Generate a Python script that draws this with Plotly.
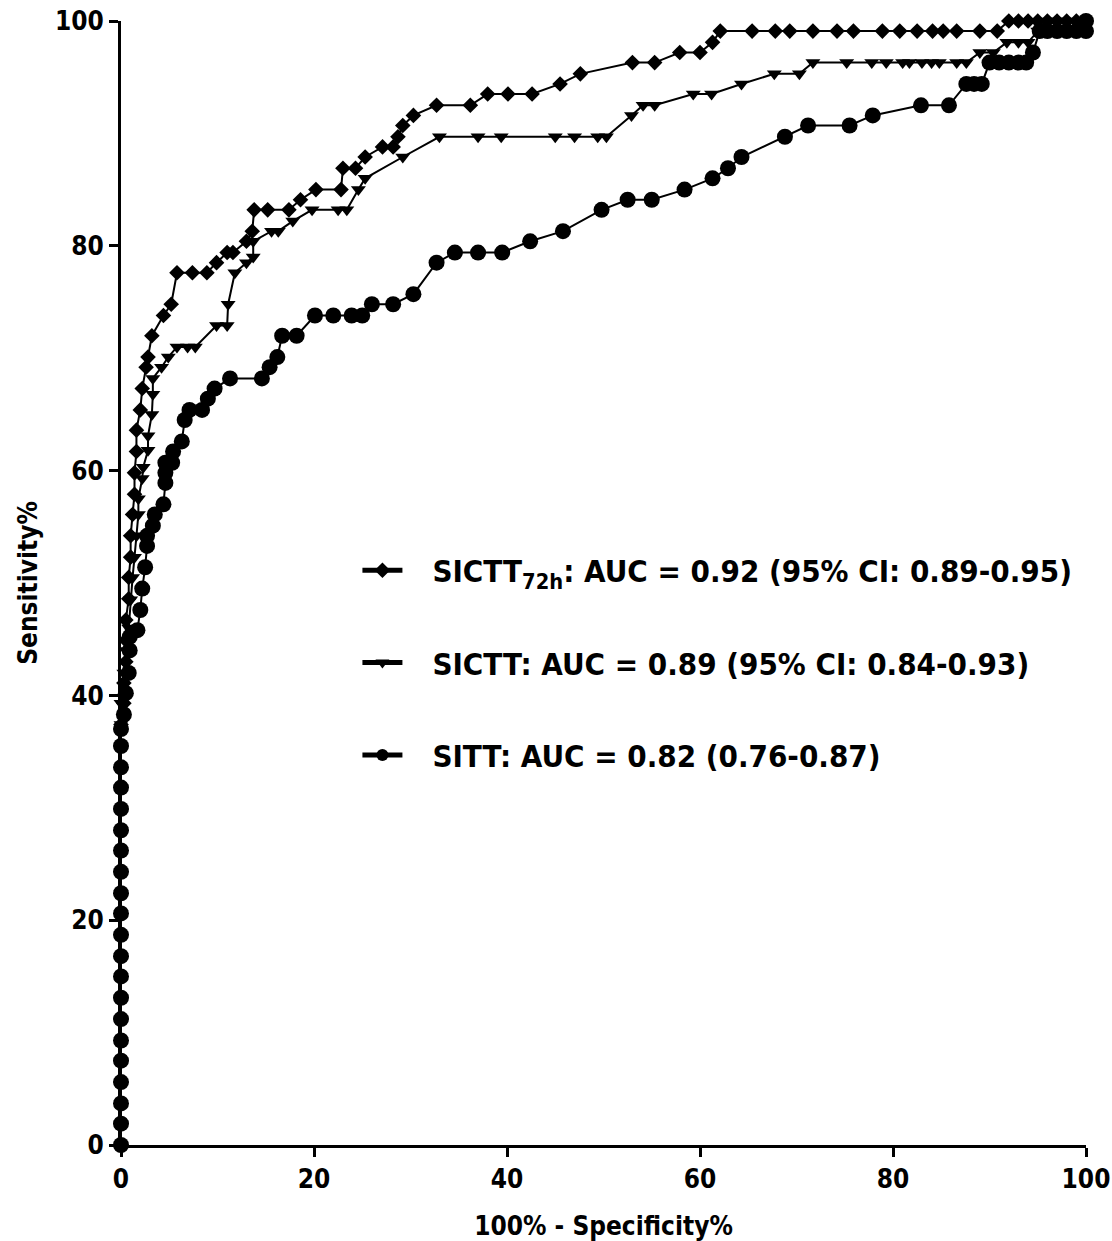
import plotly.graph_objects as go

# SICTT72h (diamonds)
sictt72_x = [0, 0, 0, 0, 0, 0, 0, 0, 0, 0, 0, 0, 0, 0, 0, 0, 0, 0, 0, 0, 0,
             0.3, 0.3, 0.5, 0.5, 0.5, 0.8, 0.8, 1.0, 1.0, 1.2, 1.4, 1.4, 1.6, 1.6, 2.0, 2.2, 2.6, 2.8, 3.2, 4.4, 5.2,
             5.8, 7.4, 8.9, 9.9, 11.0, 11.6, 13.0, 13.6, 13.8, 15.2, 17.4, 18.6, 20.2, 22.8, 23.0, 24.3, 25.3, 27.1,
             28.2, 28.7, 29.2, 30.3, 32.7, 36.2, 38.0, 40.1, 42.6, 45.5, 47.6, 53.0, 55.3, 57.9, 60.0, 61.3, 62.1,
             65.4, 67.8, 69.3, 71.7, 74.2, 75.9, 78.9, 80.7, 82.5, 84.1, 85.2, 86.6, 89.0, 90.8,
             92.0, 93.0, 94.0, 95.0, 96.0, 97.0, 98.0, 99.0, 100.0]
sictt72_y = [0, 1.9, 3.7, 5.6, 7.5, 9.3, 11.2, 13.1, 15.0, 16.8, 18.7, 20.6, 22.4, 24.3, 26.2, 28.0, 29.9, 31.8, 33.6, 35.5, 37.4,
             39.3, 41.1, 43.0, 44.9, 46.7, 48.6, 50.5, 52.3, 54.2, 56.1, 57.9, 59.8, 61.7, 63.6, 65.4, 67.3, 69.2, 70.1, 72.0, 73.8, 74.8,
             77.6, 77.6, 77.6, 78.5, 79.4, 79.4, 80.4, 81.3, 83.2, 83.2, 83.2, 84.1, 85.0, 85.0, 86.9, 86.9, 87.9, 88.8,
             88.8, 89.7, 90.7, 91.6, 92.5, 92.5, 93.5, 93.5, 93.5, 94.4, 95.3, 96.3, 96.3, 97.2, 97.2, 98.1, 99.1,
             99.1, 99.1, 99.1, 99.1, 99.1, 99.1, 99.1, 99.1, 99.1, 99.1, 99.1, 99.1, 99.1, 99.1,
             100, 100, 100, 100, 100, 100, 100, 100, 100]

# SICTT (down triangles)
sictt_x = [0, 0, 0, 0, 0, 0, 0, 0, 0, 0, 0, 0, 0, 0, 0, 0, 0, 0, 0, 0, 0, 0,
           0.3, 0.5, 0.8, 1.0, 1.2, 1.4, 1.6, 1.8, 1.8, 2.2, 2.3, 2.8, 2.8, 3.2, 3.3, 3.3, 4.2, 4.9, 5.8, 6.9, 7.7,
           9.9, 11.0, 11.1, 11.8, 13.0, 13.7, 13.7, 15.6, 16.3, 17.8, 19.8, 22.5, 23.4, 24.6, 25.3, 29.2, 33.0,
           37.0, 39.4, 45.0, 47.0, 49.4, 50.3, 52.9, 54.1, 55.3, 59.3, 61.2, 64.3, 67.7, 70.3, 71.7, 75.2, 77.8,
           79.3, 81.0, 81.7, 83.0, 84.0, 84.8, 86.6, 87.6, 89.0, 90.4, 91.8, 93.0, 94.0, 95.0, 96.0, 97.0, 98.0, 100.0]
sictt_y = [0, 1.9, 3.7, 5.6, 7.5, 9.3, 11.2, 13.1, 15.0, 16.8, 18.7, 20.6, 22.4, 24.3, 26.2, 28.0, 29.9, 31.8, 33.6, 35.5, 37.4, 39.3,
           42.0, 44.0, 46.0, 48.5, 50.5, 52.3, 54.2, 56.1, 57.5, 59.3, 60.3, 61.8, 63.1, 65.0, 66.8, 68.2, 69.2, 70.1, 71.0, 71.0, 71.0,
           72.9, 72.9, 74.8, 77.6, 78.5, 79.0, 80.4, 81.3, 81.3, 82.2, 83.2, 83.2, 83.2, 85.0, 86.0, 87.9, 89.7,
           89.7, 89.7, 89.7, 89.7, 89.7, 89.7, 91.6, 92.5, 92.5, 93.5, 93.5, 94.4, 95.3, 95.3, 96.3, 96.3, 96.3,
           96.3, 96.3, 96.3, 96.3, 96.3, 96.3, 96.3, 96.3, 97.2, 97.2, 98.1, 98.1, 98.1, 99.1, 100, 100, 100, 100]

# SITT (circles)
sitt_x = [0, 0, 0, 0, 0, 0, 0, 0, 0, 0, 0, 0, 0, 0, 0, 0, 0, 0, 0, 0, 0,
          0.3, 0.5, 0.8, 0.9, 0.9, 1.7, 2.0, 2.2, 2.5, 2.7, 2.7, 3.3, 3.5, 4.4, 4.6, 4.6, 4.6, 5.3, 5.4, 6.3, 6.6,
          7.1, 8.4, 9.0, 9.7, 11.3, 14.6, 15.4, 16.2, 16.7, 18.2, 20.1, 22.0, 23.9, 25.0, 26.0, 28.2, 30.3, 32.7,
          34.6, 37.0, 39.5, 42.4, 45.8, 49.8, 52.5, 55.0, 58.4, 61.3, 62.9, 64.3, 68.8, 71.2, 75.5, 77.9, 82.9,
          85.8, 87.6, 88.4, 89.2, 90.0, 91.0, 92.0, 93.0, 93.8, 94.5, 95.2, 96.0, 97.0, 98.0, 99.0, 100.0, 100.0]
sitt_y = [0, 1.9, 3.7, 5.6, 7.5, 9.3, 11.2, 13.1, 15.0, 16.8, 18.7, 20.6, 22.4, 24.3, 26.2, 28.0, 29.9, 31.8, 33.6, 35.5, 37.0,
          38.3, 40.2, 42.0, 44.0, 45.2, 45.8, 47.6, 49.5, 51.4, 53.3, 54.2, 55.1, 56.1, 57.0, 58.9, 59.8, 60.7, 60.7, 61.7, 62.6, 64.5,
          65.4, 65.4, 66.4, 67.3, 68.2, 68.2, 69.2, 70.1, 72.0, 72.0, 73.8, 73.8, 73.8, 73.8, 74.8, 74.8, 75.7, 78.5,
          79.4, 79.4, 79.4, 80.4, 81.3, 83.2, 84.1, 84.1, 85.0, 86.0, 86.9, 87.9, 89.7, 90.7, 90.7, 91.6, 92.5,
          92.5, 94.4, 94.4, 94.4, 96.3, 96.3, 96.3, 96.3, 96.3, 97.2, 99.1, 99.1, 99.1, 99.1, 99.1, 99.1, 100]

names = ["\u00a0\u00a0\u2009SICTT<sub>72h</sub>: AUC = 0.92 (95% CI: 0.89-0.95)",
         "\u00a0\u00a0\u2009SICTT: AUC = 0.89 (95% CI: 0.84-0.93)",
         "\u00a0\u00a0\u2009SITT: AUC = 0.82 (0.76-0.87)"]

FONT = "DejaVu Sans Condensed, Liberation Sans Narrow, Arial Narrow, Liberation Sans, Arial, sans-serif"

fig = go.Figure()
series = [(sictt72_x, sictt72_y, "diamond", 12),
          (sictt_x, sictt_y, "triangle-down", 13),
          (sitt_x, sitt_y, "circle", 16)]
for i, (xs, ys, sym, sz) in enumerate(series):
    fig.add_trace(go.Scatter(
        x=xs, y=ys, mode="lines+markers", name=names[i], legendgroup=f"g{i}",
        line=dict(color="black", width=2),
        marker=dict(symbol=sym, size=sz, color="black", line=dict(width=0)),
        cliponaxis=False,
    ))

axis_common = dict(
    showline=True, linecolor="black", linewidth=3,
    ticks="outside", ticklen=9, tickwidth=3, tickcolor="black",
    showgrid=False, zeroline=False, automargin=False,
    ticklabeloverflow="allow",
    tickfont=dict(family=FONT, size=26, color="black", weight="bold"),
)
fig.update_layout(
    width=1112, height=1241,
    margin=dict(l=121, r=26, t=21, b=96),
    paper_bgcolor="white", plot_bgcolor="white",
    xaxis=dict(range=[0, 100], tickvals=[0, 20, 40, 60, 80, 100],
               title=dict(text="100% - Specificity%", standoff=24,
                          font=dict(family=FONT, size=26, color="black", weight="bold")),
               **axis_common),
    yaxis=dict(range=[0, 100], tickvals=[0, 20, 40, 60, 80, 100],
               title=dict(text="Sensitivity%", standoff=10,
                          font=dict(family=FONT, size=26, color="black", weight="bold")),
               **axis_common),
    legend=dict(x=0.245, y=0.535, xanchor="left", yanchor="top",
                font=dict(family=FONT, size=31, color="black", weight="bold"),
                itemwidth=40, itemsizing="constant", tracegroupgap=49,
                bgcolor="rgba(0,0,0,0)", traceorder="grouped"),
    showlegend=True,
)

fig.write_html("out.html",
               config={"displayModeBar": False},
               post_script="document.body.style.margin='0';document.body.style.overflow='hidden';")
